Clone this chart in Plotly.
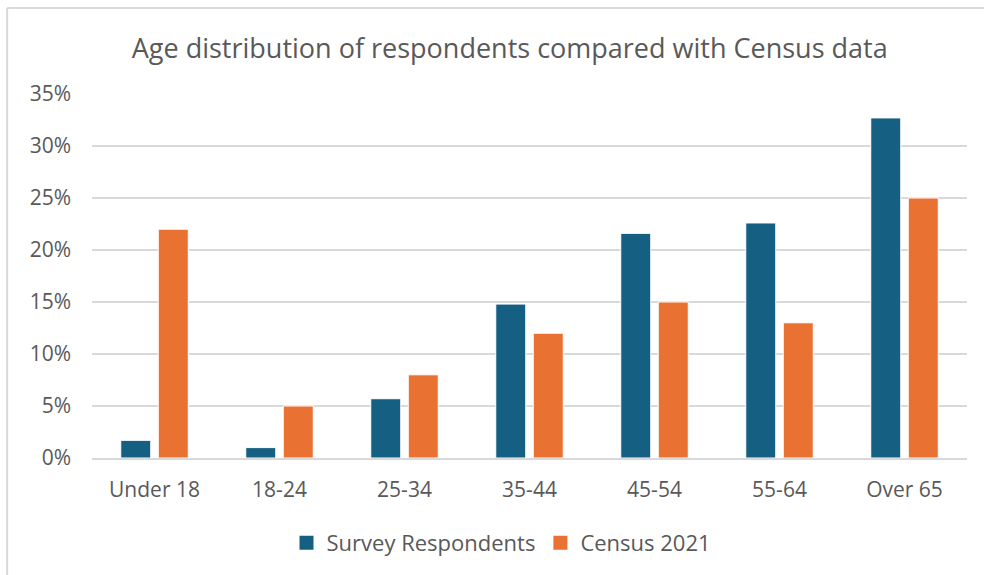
import plotly.graph_objects as go

# data (percent)
age_groups = ["Under 18", "18-24", "25-34", "35-44", "45-54", "55-64", "Over 65"]
survey_pct = [1.7, 1.0, 5.7, 14.8, 21.6, 22.6, 32.7]
census_pct = [22, 5, 8, 12, 15, 13, 25]
y_ticks = [0, 5, 10, 15, 20, 25, 30, 35]

TEXT = "#595959"
FONT = "Open Sans"
BLUE = "#156082"
ORANGE = "#E97132"

fig = go.Figure()
fig.add_trace(go.Bar(
    x=age_groups, y=survey_pct, name="Survey Respondents", showlegend=False,
    marker=dict(color=BLUE, line=dict(color="white", width=1)),
))
fig.add_trace(go.Bar(
    x=age_groups, y=census_pct, name="Census 2021", showlegend=False,
    marker=dict(color=ORANGE, line=dict(color="white", width=1)),
))

# legend-only entries so the legend squares are as big as the reference ones
for name, color in [("Survey Respondents", BLUE), ("Census 2021", ORANGE)]:
    fig.add_trace(go.Scatter(
        x=[None], y=[None], mode="markers", name=name,
        marker=dict(symbol="square", size=14, color=color),
    ))

# light frame edges (only top/left are visible in the crop)
frame = dict(color="#D9D9D9", width=2)
fig.add_shape(type="line", xref="paper", yref="paper",
              x0=-0.097, x1=-0.097, y0=-0.5, y1=1.236, line=frame)
fig.add_shape(type="line", xref="paper", yref="paper",
              x0=-0.097, x1=1.03, y0=1.236, y1=1.236, line=frame)

fig.update_layout(
    width=984, height=575,
    margin=dict(l=92, r=17, t=94, b=116),
    paper_bgcolor="white", plot_bgcolor="white",
    font=dict(family=FONT, color=TEXT, size=21),
    title=dict(text="Age distribution of respondents compared with Census data",
               x=0.518, xanchor="center", y=0.916, yanchor="middle",
               font=dict(family=FONT, size=27, color=TEXT)),
    barmode="group", bargap=0.40, bargroupgap=0.2,
    legend=dict(orientation="h", x=0.468, xanchor="center", y=-0.23, yanchor="middle",
                font=dict(size=22, color=TEXT), itemsizing="trace",
                traceorder="normal", itemwidth=30),
)
fig.update_xaxes(showline=True, linecolor="#D9D9D9", linewidth=2,
                 ticks="", ticklabelstandoff=12,
                 tickfont=dict(size=21, color=TEXT))
fig.update_yaxes(range=[0, 35], tickvals=y_ticks,
                 ticktext=[f"{v}%" for v in y_ticks],
                 showgrid=True, gridcolor="#D9D9D9", gridwidth=1.5,
                 zeroline=False, ticks="", ticklabelstandoff=20,
                 tickfont=dict(size=21, color=TEXT))

fig.write_html("out.html", config={"displayModeBar": False},
               post_script="document.body.style.margin='0';"
                           "document.body.style.overflow='hidden';"
                           "document.documentElement.style.overflow='hidden';")
